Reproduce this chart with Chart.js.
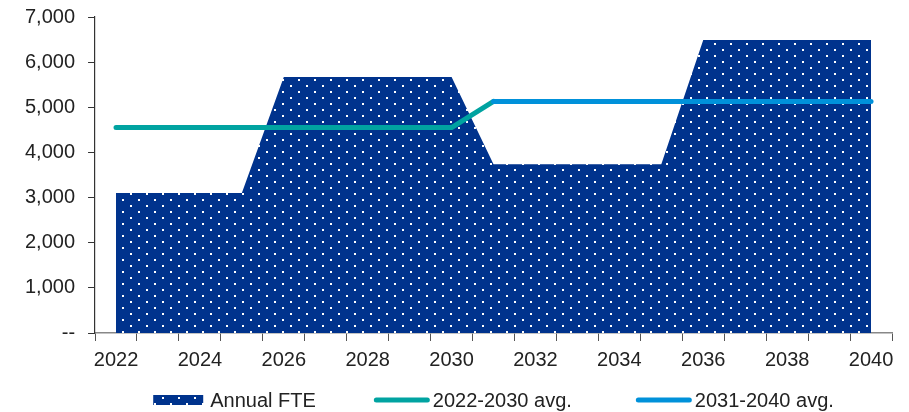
<!DOCTYPE html>
<html>
<head>
<meta charset="utf-8">
<script src="https://cdn.jsdelivr.net/npm/chart.js@4/dist/chart.umd.min.js"></script>
<style>
  html, body { margin: 0; padding: 0; background: #fff; }
  #wrap { width: 909px; height: 412px; }
</style>
</head>
<body>
<div id="wrap"><canvas id="fteChart"></canvas></div>
<script>
const years = ['2022', '2023', '2024', '2025', '2026', '2027', '2028', '2029', '2030', '2031',
    '2032', '2033', '2034', '2035', '2036', '2037', '2038', '2039', '2040'];
const annualFte = [3100, 3100, 3100, 3100, 5670, 5670, 5670, 5670, 5670, 3740,
    3740, 3740, 3740, 3740, 6490, 6490, 6490, 6490, 6490];
const avg2022to2030 = [4550, 4550, 4550, 4550, 4550, 4550, 4550, 4550, 4550, 5130,
    null, null, null, null, null, null, null, null, null];
const avg2031to2040 = [null, null, null, null, null, null, null, null, null, 5130,
    5130, 5130, 5130, 5130, 5130, 5130, 5130, 5130, 5130];
const yTicks = [0, 1000, 2000, 3000, 4000, 5000, 6000, 7000];

const NAVY = '#00338D';
const TEAL = '#00A3A1';
const BLUE = '#0091DA';
const FONT = "'Liberation Sans', Arial, sans-serif";
const FONT_SIZE = 20;

// dotted fill for the annual FTE area
function makeDots() {
    const c = document.createElement('canvas');
    c.width = 16;
    c.height = 12;
    const g = c.getContext('2d');
    g.fillStyle = NAVY;
    g.fillRect(0, 0, 16, 12);
    g.fillStyle = '#ffffff';
    g.fillRect(2, 1, 2, 2);
    g.fillRect(10, 7, 2, 2);
    return g.createPattern(c, 'repeat');
}
const dots = makeDots();

// legend drawn by hand so the gaps between items match the original
const bottomLegend = {
    id: 'bottomLegend',
    afterDraw(chart) {
        const ctx = chart.ctx;
        const area = chart.chartArea;
        const gaps = [58, 64];
        ctx.save();
        ctx.font = FONT_SIZE + 'px ' + FONT;
        ctx.textBaseline = 'middle';
        const items = chart.data.datasets.map(function (ds, i) {
            const sym = i === 0 ? 50 : 56;
            const pad = i === 0 ? 7 : 3;
            return { ds: ds, sym: sym, pad: pad, w: sym + pad + ctx.measureText(ds.label).width };
        });
        const total = items.reduce((s, it) => s + it.w, 0) + gaps[0] + gaps[1];
        let x = (area.left + area.right) / 2 - total / 2;
        const y = chart.height - 12;
        items.forEach(function (it, i) {
            if (i === 0) {
                ctx.fillStyle = it.ds.backgroundColor;
                ctx.fillRect(x, y - 5, it.sym, 10);
            } else {
                ctx.strokeStyle = it.ds.borderColor;
                ctx.lineWidth = 5;
                ctx.lineCap = 'round';
                ctx.beginPath();
                ctx.moveTo(x + 2.5, y);
                ctx.lineTo(x + it.sym - 2.5, y);
                ctx.stroke();
            }
            ctx.fillStyle = '#222';
            ctx.fillText(it.ds.label, x + it.sym + it.pad, y + 1);
            x += it.w + (gaps[i] || 0);
        });
        ctx.restore();
    }
};

new Chart(document.getElementById('fteChart'), {
    type: 'line',
    data: {
        labels: years,
        datasets: [
            {
                label: 'Annual FTE',
                data: annualFte,
                backgroundColor: dots,
                borderWidth: 0,
                borderColor: 'rgba(0,0,0,0)',
                fill: 'origin',
                pointRadius: 0,
                tension: 0,
                order: 3
            },
            {
                label: '2022-2030 avg.',
                data: avg2022to2030,
                borderColor: TEAL,
                backgroundColor: TEAL,
                borderWidth: 5,
                borderCapStyle: 'round',
                borderJoinStyle: 'round',
                fill: false,
                pointRadius: 0,
                tension: 0,
                order: 2
            },
            {
                label: '2031-2040 avg.',
                data: avg2031to2040,
                borderColor: BLUE,
                backgroundColor: BLUE,
                borderWidth: 5,
                borderCapStyle: 'round',
                borderJoinStyle: 'round',
                fill: false,
                pointRadius: 0,
                tension: 0,
                order: 1
            }
        ]
    },
    plugins: [bottomLegend],
    options: {
        responsive: true,
        maintainAspectRatio: false,
        animation: false,
        layout: {
            padding: { left: 12, right: 17, top: 17, bottom: 33 }
        },
        plugins: {
            tooltip: { enabled: false },
            legend: { display: false }
        },
        scales: {
            x: {
                type: 'category',
                offset: true,
                grid: {
                    offset: true,
                    drawOnChartArea: false,
                    drawTicks: true,
                    tickLength: 8,
                    color: '#555'
                },
                border: { display: true, color: '#888', width: 1.5 },
                ticks: {
                    autoSkip: false,
                    maxRotation: 0,
                    color: '#222',
                    padding: 7,
                    font: { family: FONT, size: FONT_SIZE },
                    callback: function (value, index) {
                        return index % 2 === 0 ? years[index] : '';
                    }
                }
            },
            y: {
                min: yTicks[0],
                max: yTicks[yTicks.length - 1],
                afterBuildTicks: function (axis) {
                    axis.ticks = yTicks.map(v => ({ value: v }));
                },
                afterFit: function (axis) {
                    axis.paddingTop = 0;
                    axis.paddingBottom = 0;
                },
                grid: {
                    drawOnChartArea: false,
                    drawTicks: true,
                    tickLength: 7,
                    color: '#333'
                },
                border: { display: true, color: '#333', width: 1.2 },
                ticks: {
                    color: '#222',
                    padding: 13,
                    font: { family: FONT, size: FONT_SIZE },
                    callback: function (value) {
                        return value === 0 ? '--' : value.toLocaleString('en-US');
                    }
                }
            }
        }
    }
});
</script>
</body>
</html>
